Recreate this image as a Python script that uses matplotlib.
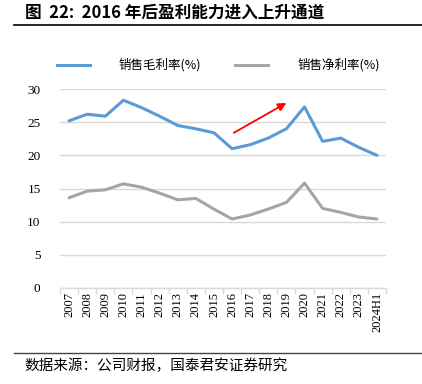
import matplotlib
matplotlib.use("Agg")
import matplotlib.pyplot as plt
from matplotlib.lines import Line2D

categories = ["2007", "2008", "2009", "2010", "2011", "2012", "2013", "2014", "2015",
              "2016", "2017", "2018", "2019", "2020", "2021", "2022", "2023", "2024H1"]
gross_margin = [25.2, 26.2, 25.9, 28.3, 27.2, 25.9, 24.5, 24.0, 23.4,
                21.0, 21.6, 22.6, 24.0, 27.3, 22.1, 22.6, 21.2, 20.0]
net_margin = [13.6, 14.6, 14.8, 15.7, 15.2, 14.3, 13.3, 13.5, 11.9,
              10.4, 11.0, 11.9, 12.9, 15.8, 12.0, 11.4, 10.7, 10.4]
series_names = ["销售毛利率(%)", "销售净利率(%)"]
yticks = [0, 5, 10, 15, 20, 25, 30]
title = "图  22:  2016 年后盈利能力进入上升通道"
source = "数据来源：公司财报，国泰君安证券研究"

CJK = ["Noto Sans CJK SC", "DejaVu Sans"]
SERIF = ["Liberation Serif", "Noto Sans CJK SC"]

W, H = 422, 384
fig = plt.figure(figsize=(W / 100, H / 100), dpi=100)

def fx(px):
    return px / W

def fy(py):
    return 1 - py / H

ax = fig.add_axes([fx(60), fy(288), fx(386 - 60), fy(89) - fy(288)])
x = list(range(len(categories)))
blue = "#5B9BD5"
gray = "#A5A5A5"
ax.plot(x, gross_margin, color=blue, lw=2.2, solid_capstyle="round", zorder=3)
ax.plot(x, net_margin, color=gray, lw=2.2, solid_capstyle="round", zorder=3)

ax.set_xlim(-0.5, len(categories) - 0.5)
ax.set_ylim(0, 30)
ax.set_yticks(yticks)
ax.set_yticklabels([str(v) for v in yticks], family=SERIF, fontsize=9.5)
ax.yaxis.grid(True, color="#D9D9D9", lw=1)
ax.set_axisbelow(True)
ax.tick_params(axis="y", length=0, pad=14)
for s in ["left", "right", "top"]:
    ax.spines[s].set_visible(False)
ax.spines["bottom"].set_color("#D9D9D9")
ax.spines["bottom"].set_linewidth(1)

ax.set_xticks(x)
ax.set_xticklabels(categories, rotation=90, family=SERIF, fontsize=9)
ax.tick_params(axis="x", length=0, pad=3)
ax.set_xticks([i - 0.5 for i in range(len(categories) + 1)], minor=True)
ax.tick_params(axis="x", which="minor", length=4, color="#D9D9D9", width=1)

# arrow
ax.annotate("", xy=(12.0, 27.9), xytext=(9.1, 23.4),
            arrowprops=dict(arrowstyle="-|>", color="#FF0000", lw=1.3,
                            mutation_scale=12, shrinkA=0, shrinkB=0))

# legend
fig.add_artist(Line2D([fx(57), fx(90)], [fy(65), fy(65)], color=blue, lw=2.2))
fig.text(fx(119), fy(65), series_names[0], family=CJK, fontsize=9, va="center", ha="left")
fig.add_artist(Line2D([fx(235), fx(268)], [fy(65), fy(65)], color=gray, lw=2.2))
fig.text(fx(298), fy(65), series_names[1], family=CJK, fontsize=9, va="center", ha="left")

# title and rules
fig.text(fx(25), fy(13), title, family=CJK, fontsize=12, fontweight="bold", va="center", ha="left")
fig.add_artist(Line2D([fx(14), fx(422)], [fy(25), fy(25)], color="black", lw=1.2))
fig.add_artist(Line2D([fx(14), fx(422)], [fy(353), fy(353)], color="#444444", lw=1.0))
fig.text(fx(24), fy(366), source, family=CJK, fontsize=10.5, va="center", ha="left")

fig.savefig("out.png", dpi=100)
